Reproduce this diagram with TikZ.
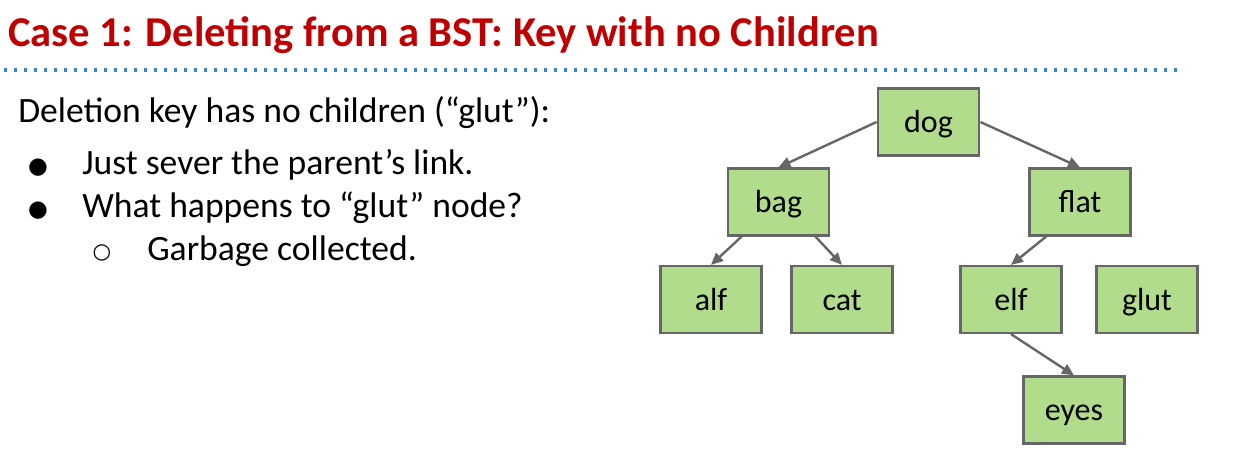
\documentclass[tikz,border=0pt]{standalone}
\usepackage{fontspec}
\setmainfont{Carlito}
\newfontfamily\symfont{DejaVu Sans}
\usepackage{xcolor}
\usepackage{tikz}
\usetikzlibrary{calc,arrows.meta}
\definecolor{titlered}{HTML}{C00000}
\definecolor{dotblue}{HTML}{3D85C6}
\definecolor{keygreen}{HTML}{B1DC8B}
\definecolor{edgegray}{HTML}{666666}
\tikzset{
  keybox/.style={draw=edgegray,line width=1.9pt,fill=keygreen,minimum width=76pt,minimum height=50pt,inner sep=0pt,text height=15.8pt,text depth=0pt,font=\fontsize{24}{28}\selectfont},
  ln/.style={-{Triangle[length=9pt,width=8pt]},line width=1.8pt,edgegray},
  txt/.style={anchor=base west,inner sep=0pt,font=\fontsize{26.7}{31}\selectfont},
  bul/.style={anchor=base,inner sep=0pt,font=\symfont\fontsize{17}{20}\selectfont}
}
\begin{document}
\begin{tikzpicture}[x=0.75pt,y=-0.75pt]
\useasboundingbox (0,0) rectangle (1253,456);
% heading
\node[anchor=base west,inner sep=0pt,text=titlered,font=\fontsize{31.9}{37}\selectfont\bfseries] (title) at (8,47) {Case 1: Deleting from a BST: Key with no Children};
\draw[dotblue,line width=2.3pt,dash pattern=on 2.3pt off 5.2pt] (4,70) -- (1183,70);
% text on the left
\node[txt] (intro) at (18,123) {Deletion key has no children (“glut”):};
\node[bul] (b1) at (38,174) {●};
\node[txt] (t1) at (82,175) {Just sever the parent’s link.};
\node[bul] (b2) at (38,217) {●};
\node[txt] (t2) at (82,218) {What happens to “glut” node?};
\node[bul,font=\symfont\fontsize{16}{19}\selectfont] (b3) at (102,258) {○};
\node[txt] (t3) at (147,260) {Garbage collected.};
% the tree
\node[keybox] (dog) at (928.5,122) {dog};
\node[keybox] (bag) at (778.5,202) {bag};
\node[keybox] (flat) at (1080,202) {flat};
\node[keybox] (alf) at (711,299.5) {alf};
\node[keybox] (cat) at (842,299.5) {cat};
\node[keybox] (elf) at (1011,299.5) {elf};
\node[keybox] (glut) at (1147,299.5) {glut};
\node[keybox] (eyes) at (1074,410) {eyes};
\draw[ln] (dog.west) -- (bag.north);
\draw[ln] (dog.east) -- (flat.north);
\draw[ln] ($(bag.south west)+(15,0)$) -- (alf.north);
\draw[ln] ($(bag.south east)+(-15,0)$) -- (cat.north);
\draw[ln] ($(flat.south west)+(18,0)$) -- (elf.north);
\draw[ln] (elf.south) -- (eyes.north);
\end{tikzpicture}
\end{document}
